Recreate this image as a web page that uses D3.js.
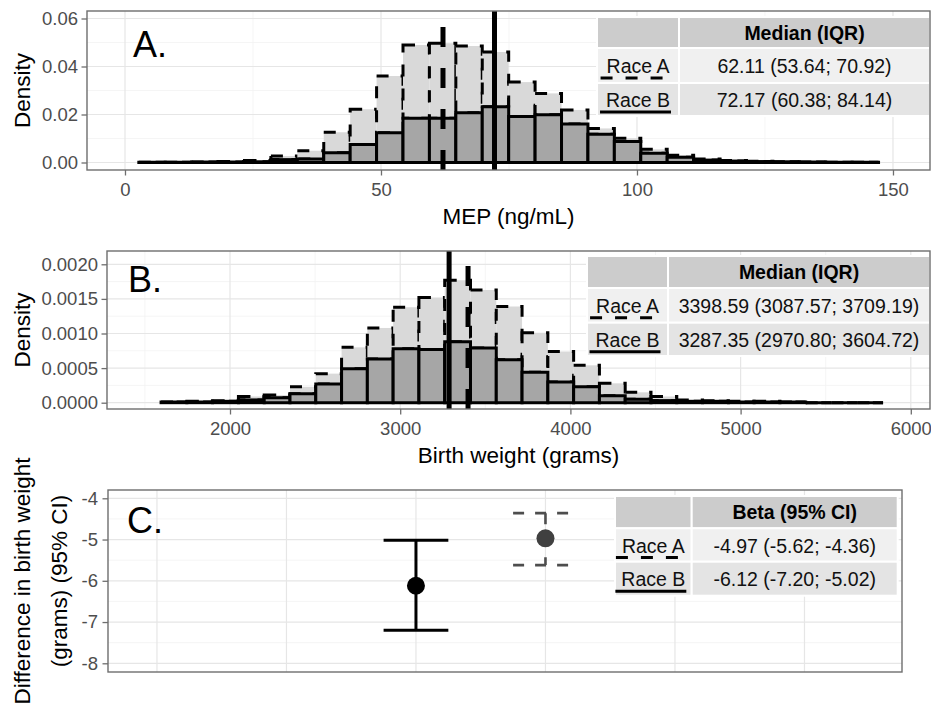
<!DOCTYPE html>
<html>
<head>
<meta charset="utf-8">
<script src="https://cdnjs.cloudflare.com/ajax/libs/d3/7.8.5/d3.min.js"></script>
<style>
  body { margin: 0; background: #fff; overflow: hidden; }
</style>
</head>
<body>
<div id="chart"></div>
<script>
// ---- data ----
// histograms are stacked: race A sits on top of race B (densities per bin)
var races = ["Race A", "Race B"];

var mepBinStart = 2.7, mepBinWidth = 5.16;
var mepRaceB = [0.0001, 0.0001, 0.0002, 0.0002, 0.0003, 0.0012, 0.0015, 0.0041, 0.0075, 0.0124,
                0.0184, 0.0184, 0.0207, 0.0232, 0.0192, 0.0199, 0.0160, 0.0118, 0.0087, 0.0039,
                0.0022, 0.0010, 0.0006, 0.0004, 0.0003, 0.0002, 0.0001, 0.0001];
var mepRaceA = [0, 0, 0, 0.0002, 0.0005, 0.0015, 0.0034, 0.0085, 0.0147, 0.0236,
                0.0306, 0.0313, 0.0278, 0.0228, 0.0143, 0.0089, 0.0059, 0.0024, 0.0014, 0.0016,
                0.0008, 0.0005, 0.0002, 0.0001, 0, 0, 0, 0];
var mepMedians = [62.11, 72.17];
var mepStats = ["62.11 (53.64; 70.92)", "72.17 (60.38; 84.14)"];

var bwBinStart = 1595, bwBinWidth = 151.5;
var bwRaceB = [0.00001, 0.00001, 0.00002, 0.00004, 0.00007, 0.00013, 0.00027, 0.00049, 0.00063, 0.00078,
               0.00077, 0.00088, 0.00079, 0.00062, 0.00044, 0.00030, 0.00023, 0.00010, 0.00005, 0.00003,
               0.00002, 0.00002, 0.00001, 0.00001, 0.00001, 0, 0, 0];
var bwRaceA = [0, 0.00001, 0.00001, 0.00005, 0.00004, 0.00010, 0.00015, 0.00031, 0.00045, 0.00060,
               0.00075, 0.00089, 0.00084, 0.00077, 0.00057, 0.00044, 0.00031, 0.00018, 0.00010, 0.00006,
               0.00002, 0.00001, 0.00001, 0.00001, 0, 0, 0, 0];
var bwMedians = [3398.59, 3287.35];
var bwStats = ["3398.59 (3087.57; 3709.19)", "3287.35 (2970.80; 3604.72)"];

var betaPos = [2, 1];
var betaEst = [-4.97, -6.12];
var betaLow = [-5.62, -7.20];
var betaHigh = [-4.36, -5.02];
var betaStats = ["-4.97 (-5.62; -4.36)", "-6.12 (-7.20; -5.02)"];

var FONT = '"Liberation Sans", Arial, Helvetica, sans-serif';

var svg = d3.select("#chart").append("svg")
  .attr("width", 931).attr("height", 706)
  .style("background", "#fff")
  .attr("font-family", FONT);

function grid(g, x, y, xMaj, xMin, yMaj, yMin) {
  var L = x.range()[0], R = x.range()[1], B = y.range()[0], T = y.range()[1];
  function vl(vals, col, w) {
    g.append("g").selectAll("line").data(vals).enter().append("line")
      .attr("x1", x).attr("x2", x).attr("y1", T).attr("y2", B)
      .attr("stroke", col).attr("stroke-width", w);
  }
  function hl(vals, col, w) {
    g.append("g").selectAll("line").data(vals).enter().append("line")
      .attr("y1", y).attr("y2", y).attr("x1", L).attr("x2", R)
      .attr("stroke", col).attr("stroke-width", w);
  }
  vl(xMin, "#f3f3f3", 0.8); hl(yMin, "#f3f3f3", 0.8);
  vl(xMaj, "#e6e6e6", 1.2); hl(yMaj, "#e6e6e6", 1.2);
}

function frame(g, x, y) {
  var L = x.range()[0], R = x.range()[1], B = y.range()[0], T = y.range()[1];
  g.append("rect").attr("x", L).attr("y", T).attr("width", R - L).attr("height", B - T)
    .attr("fill", "none").attr("stroke", "#6e6e6e").attr("stroke-width", 1.4);
}

function styleAxis(a) {
  a.select(".domain").remove();
  a.attr("font-size", 18.5).attr("font-family", FONT);
  a.selectAll("line").attr("stroke", "#6e6e6e").attr("stroke-width", 1.3);
  a.selectAll("text").attr("fill", "#4d4d4d");
}

function table(g, t, head, labels, stats) {
  var ys = t.ys;
  var fills = ["#cccccc", "#f0f0f0", "#e4e4e4"];
  for (var r = 0; r < 3; r++) {
    [[t.x0, t.xs], [t.xs, t.x1]].forEach(function(c) {
      g.append("rect").attr("x", c[0]).attr("y", ys[r])
        .attr("width", c[1] - c[0]).attr("height", ys[r + 1] - ys[r])
        .attr("fill", fills[r]).attr("stroke", "#fff").attr("stroke-width", 2);
    });
  }
  var c1 = (t.x0 + t.xs) / 2, c2 = (t.xs + t.x1) / 2;
  g.append("text").attr("x", c2).attr("y", (ys[0] + ys[1]) / 2 + 7)
    .attr("text-anchor", "middle").attr("font-weight", "bold").attr("font-size", 19.5)
    .text(head);
  labels.forEach(function(lab, i) {
    var base = (ys[i + 1] + ys[i + 2]) / 2 + 7.5;
    var tx = g.append("text").attr("x", c1).attr("y", base)
      .attr("text-anchor", "middle").attr("font-size", 19.5).attr("fill", "#111").text(lab);
    g.append("text").attr("x", c2).attr("y", base)
      .attr("text-anchor", "middle").attr("font-size", 19.5).attr("fill", "#111").text(stats[i]);
    var bb = tx.node().getBBox();
    g.append("line").attr("x1", bb.x - 6).attr("x2", bb.x + bb.width + 1)
      .attr("y1", base + 5).attr("y2", base + 5)
      .attr("stroke", "#000").attr("stroke-width", 3)
      .attr("stroke-dasharray", i === 0 ? "12,13" : null);
  });
}

function histPanel(p) {
  var g = svg.append("g");
  var x = p.x, y = p.y;
  var L = x.range()[0], R = x.range()[1], B = y.range()[0], T = y.range()[1];
  grid(g, x, y, p.xTicks, p.xMinor, p.yTicks, p.yMinor);

  var rows = p.raceB.map(function(b, i) {
    return { lo: p.binStart + i * p.binWidth, hi: p.binStart + (i + 1) * p.binWidth, B: b, A: p.raceA[i] };
  });
  var layers = d3.stack().keys(["B", "A"])(rows);
  var look = { A: { fill: "#d9d9d9", dash: "12,12" }, B: { fill: "#a6a6a6", dash: null } };
  [layers[1], layers[0]].forEach(function(layer) {
    var st = look[layer.key];
    g.append("g").selectAll("path").data(layer).enter().append("path")
      .attr("d", function(d) {
        var x0 = x(d.data.lo), x1 = x(d.data.hi), yt = y(d[1]), yb = y(d[0]);
        return "M" + x0 + "," + yt + "H" + x1 + "V" + yb + "H" + x0 + "Z";
      })
      .attr("fill", st.fill).attr("stroke", "#000").attr("stroke-width", 3)
      .attr("stroke-dasharray", st.dash);
  });

  // median lines, drawn bottom-up
  g.selectAll(".med").data(p.medians).enter().append("line")
    .attr("x1", x).attr("x2", x).attr("y1", B).attr("y2", T)
    .attr("stroke", "#000").attr("stroke-width", 5)
    .attr("stroke-dasharray", function(d, i) { return i === 0 ? "20,21" : null; });

  table(g, p.table, "Median (IQR)", races, p.stats);

  g.append("text").attr("x", p.labelPos[0]).attr("y", p.labelPos[1])
    .attr("font-size", 36).text(p.label);

  frame(g, x, y);

  var ay = g.append("g").attr("transform", "translate(" + L + ",0)")
    .call(d3.axisLeft(y).tickValues(p.yTicks).tickFormat(p.yFormat).tickSize(5.5).tickPadding(3.5));
  styleAxis(ay);
  var ax = g.append("g").attr("transform", "translate(0," + B + ")")
    .call(d3.axisBottom(x).tickValues(p.xTicks).tickFormat(d3.format("d")).tickSize(5.5).tickPadding(7.5));
  styleAxis(ax);

  g.append("text").attr("x", (L + R) / 2).attr("y", B + 54)
    .attr("text-anchor", "middle").attr("font-size", 22.5).text(p.xTitle);
  g.append("text").attr("transform", "translate(29.5," + (T + B) / 2 + ") rotate(-90)")
    .attr("text-anchor", "middle").attr("font-size", 22.5).text("Density");
}

// ---- panel A ----
histPanel({
  x: d3.scaleLinear().domain([-7.42, 157.23]).range([87, 930]),
  y: d3.scaleLinear().domain([-0.003125, 0.063125]).range([170, 11]),
  binStart: mepBinStart, binWidth: mepBinWidth, raceA: mepRaceA, raceB: mepRaceB,
  medians: mepMedians, stats: mepStats,
  xTicks: [0, 50, 100, 150], xMinor: [25, 75, 125],
  yTicks: [0, 0.02, 0.04, 0.06], yMinor: [0.01, 0.03, 0.05],
  yFormat: d3.format(".2f"),
  xTitle: "MEP (ng/mL)", label: "A.", labelPos: [133, 57],
  table: { x0: 597, xs: 679, x1: 930, ys: [17, 48, 83, 116] }
});

// ---- panel B ----
histPanel({
  x: d3.scaleLinear().domain([1277.3, 6112.8]).range([107, 930]),
  y: d3.scaleLinear().domain([-0.000091, 0.002192]).range([409, 251]),
  binStart: bwBinStart, binWidth: bwBinWidth, raceA: bwRaceA, raceB: bwRaceB,
  medians: bwMedians, stats: bwStats,
  xTicks: [2000, 3000, 4000, 5000, 6000], xMinor: [1500, 2500, 3500, 4500, 5500],
  yTicks: [0, 0.0005, 0.001, 0.0015, 0.002], yMinor: [0.00025, 0.00075, 0.00125, 0.00175],
  yFormat: d3.format(".4f"),
  xTitle: "Birth weight (grams)", label: "B.", labelPos: [128, 292],
  table: { x0: 587, xs: 668, x1: 930, ys: [256, 288, 322.7, 356] }
});

// ---- panel C ----
(function() {
  var g = svg.append("g");
  var x = d3.scaleLinear().domain([-1.378, 4.753]).range([108, 902]);
  var y = d3.scaleLinear().domain([-8.211, -3.799]).range([672, 490]);
  grid(g, x, y, [-1, 0, 1, 2, 3, 4], [], [-4, -5, -6, -7, -8], [-4.5, -5.5, -6.5, -7.5]);

  var cap = 0.25;
  var cols = ["#4d4d4d", "#000"];
  var dashes = ["11,11", null];
  betaEst.forEach(function(est, i) {
    var eb = g.append("g").attr("stroke", cols[i]).attr("stroke-width", i === 0 ? 2.6 : 3)
      .attr("stroke-dasharray", dashes[i]);
    var xc = betaPos[i];
    eb.append("line").attr("x1", x(xc - cap)).attr("x2", x(xc + cap))
      .attr("y1", y(betaHigh[i])).attr("y2", y(betaHigh[i]));
    eb.append("line").attr("x1", x(xc)).attr("x2", x(xc))
      .attr("y1", y(betaHigh[i])).attr("y2", y(betaLow[i]));
    eb.append("line").attr("x1", x(xc - cap)).attr("x2", x(xc + cap))
      .attr("y1", y(betaLow[i])).attr("y2", y(betaLow[i]));
  });
  g.selectAll("circle").data(betaEst).enter().append("circle")
    .attr("cx", function(d, i) { return x(betaPos[i]); })
    .attr("cy", y).attr("r", 9)
    .attr("fill", function(d, i) { return i === 0 ? "#404040" : "#000"; });

  table(g, { x0: 615, xs: 691.7, x1: 897.7, ys: [496, 528.3, 561.7, 595.7] },
        "Beta (95% CI)", races, betaStats);

  g.append("text").attr("x", 127).attr("y", 533).attr("font-size", 36).text("C.");
  frame(g, x, y);

  var ay = g.append("g").attr("transform", "translate(108,0)")
    .call(d3.axisLeft(y).tickValues([-4, -5, -6, -7, -8]).tickFormat(function(d) { return String(d); })
      .tickSize(5.5).tickPadding(4.5));
  styleAxis(ay);

  g.append("text").attr("transform", "translate(29.5,581) rotate(-90)")
    .attr("text-anchor", "middle").attr("font-size", 22.5).text("Difference in birth weight");
  g.append("text").attr("transform", "translate(66.5,581) rotate(-90)")
    .attr("text-anchor", "middle").attr("font-size", 22.5).text("(grams) (95% CI)");
})();
</script>
</body>
</html>
